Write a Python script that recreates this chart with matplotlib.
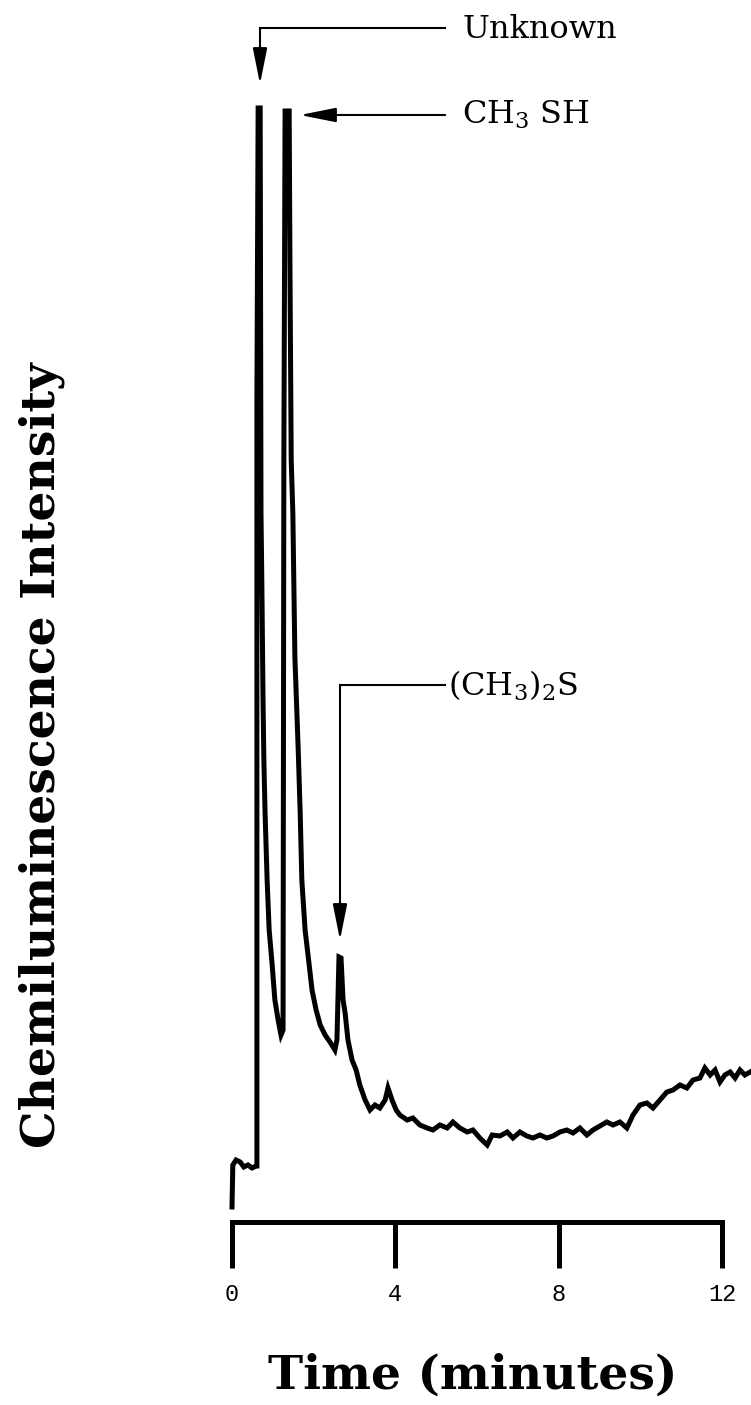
import matplotlib
matplotlib.use("Agg")
import matplotlib.pyplot as plt

# chromatogram trace (time in minutes, arbitrary intensity)
time_min = [0.00, 0.02, 0.10, 0.20, 0.29, 0.39, 0.49, 0.59, 0.61, 0.61, 0.64, 0.69,
            0.71, 0.73, 0.76, 0.78, 0.81, 0.86, 0.91, 0.98, 1.05, 1.13, 1.20, 1.25,
            1.27, 1.30, 1.40, 1.42, 1.45, 1.49, 1.54, 1.62, 1.67, 1.71, 1.79, 1.89,
            1.96, 2.06, 2.16, 2.28, 2.40, 2.52, 2.57, 2.62, 2.67, 2.72, 2.77, 2.84,
            2.94, 3.04, 3.13, 3.26, 3.38, 3.50, 3.62, 3.75, 3.82, 3.92, 4.02, 4.11,
            4.29, 4.43, 4.60, 4.78, 4.92, 5.09, 5.27, 5.41, 5.58, 5.76, 5.90, 6.07,
            6.25, 6.37, 6.56, 6.74, 6.88, 7.05, 7.22, 7.37, 7.54, 7.71, 7.86, 8.03,
            8.20, 8.35, 8.52, 8.69, 8.84, 9.01, 9.18, 9.33, 9.50, 9.67, 9.82, 9.99,
            10.16, 10.31, 10.48, 10.65, 10.80, 10.97, 11.14, 11.29, 11.46, 11.58,
            11.71, 11.83, 11.95, 12.07, 12.20, 12.32, 12.44, 12.56, 12.69]
intensity = [0.3, 4.5, 5.0, 4.8, 4.3, 4.5, 4.2, 4.4, 4.4, 81.0, 110.2, 110.2,
             69.7, 63.0, 51.0, 45.0, 39.7, 33.0, 28.0, 24.7, 21.0, 19.0, 17.5, 18.0,
             75.0, 109.9, 109.9, 93.8, 75.0, 69.7, 55.3, 46.2, 39.7, 33.0, 28.0, 24.5,
             22.0, 20.0, 18.5, 17.5, 16.8, 16.0, 17.0, 25.3, 25.2, 21.0, 19.7, 17.0,
             15.0, 14.0, 12.5, 11.0, 10.0, 10.5, 10.2, 11.0, 12.2, 11.0, 10.0, 9.5,
             9.0, 9.2, 8.5, 8.2, 8.0, 8.5, 8.2, 8.8, 8.2, 7.8, 8.0, 7.2,
             6.5, 7.5, 7.4, 7.8, 7.2, 7.8, 7.4, 7.2, 7.5, 7.2, 7.4, 7.8,
             8.0, 7.7, 8.2, 7.5, 8.0, 8.4, 8.8, 8.5, 8.8, 8.2, 9.5, 10.5,
             10.7, 10.2, 11.0, 11.8, 12.0, 12.5, 12.2, 13.0, 13.2, 14.2,
             13.5, 14.0, 12.8, 13.5, 13.8, 13.2, 14.0, 13.5, 13.8]

x_ticks = [0, 4, 8, 12]
x_ticklabels = ["0", "4", "8", "12"]

# peak labels: text, text pos, elbow pos, arrow tip, start of leader line
peak_labels = ["Unknown", "CH$_3$ SH", "(CH$_3$)$_2$S"]
label_pos = [(5.64, 118.0), (5.64, 109.5), (5.30, 52.4)]
elbow_pos = [(0.686, 118.2), None, (2.645, 52.5)]
tip_pos = [(0.686, 112.6), (1.665, 109.5), (2.645, 27.0)]
line_start = [(5.22, 118.2), (5.22, 109.5), (5.22, 52.5)]

plt.rcParams["mathtext.default"] = "regular"
serif = "DejaVu Serif"

fig = plt.figure(figsize=(7.51, 14.05), dpi=100)
ax = fig.add_axes([232 / 751, (1405 - 1222) / 1405, 1 - 232 / 751, (1222 - 100) / 1405])
ax.set_xlim(0, 12.71)
ax.set_ylim(-1.2, 111.0)

ax.plot(time_min, intensity, color="black", lw=3.6, clip_on=False,
        solid_joinstyle="miter")

for s in ["top", "right", "left"]:
    ax.spines[s].set_visible(False)
ax.spines["bottom"].set_linewidth(3.6)
ax.spines["bottom"].set_bounds(0, 12)
ax.spines["bottom"].set_capstyle("projecting")
ax.set_yticks([])
ax.set_xticks(x_ticks)
ax.set_xticklabels(x_ticklabels, fontfamily="Liberation Mono", fontsize=17)
ax.tick_params(axis="x", direction="out", length=33, width=3.6, pad=11)

for i, txt in enumerate(peak_labels):
    x0, y0 = line_start[i]
    if elbow_pos[i] is not None:
        ex, ey = elbow_pos[i]
        ax.plot([x0, ex], [y0, ey], color="black", lw=1.5, clip_on=False)
        start = (ex, ey)
    else:
        start = (x0, y0)
    ax.annotate("", xy=tip_pos[i], xytext=start, annotation_clip=False,
                arrowprops=dict(arrowstyle="-|>,head_length=1.1,head_width=0.22",
                                mutation_scale=20, color="black", lw=1.5,
                                shrinkA=0, shrinkB=0))
    ax.text(label_pos[i][0], label_pos[i][1], txt, fontsize=23, family=serif,
            va="center", ha="left", clip_on=False)

fig.text(473 / 751, 1 - 1376 / 1405, "Time (minutes)", fontsize=34, family=serif,
         fontweight="bold", ha="center", va="center")
fig.text(42 / 751, 1 - 755 / 1405, "Chemiluminescence Intensity", fontsize=34,
         family=serif, fontweight="bold", ha="center", va="center", rotation=90)

fig.savefig("out.png", dpi=100)
